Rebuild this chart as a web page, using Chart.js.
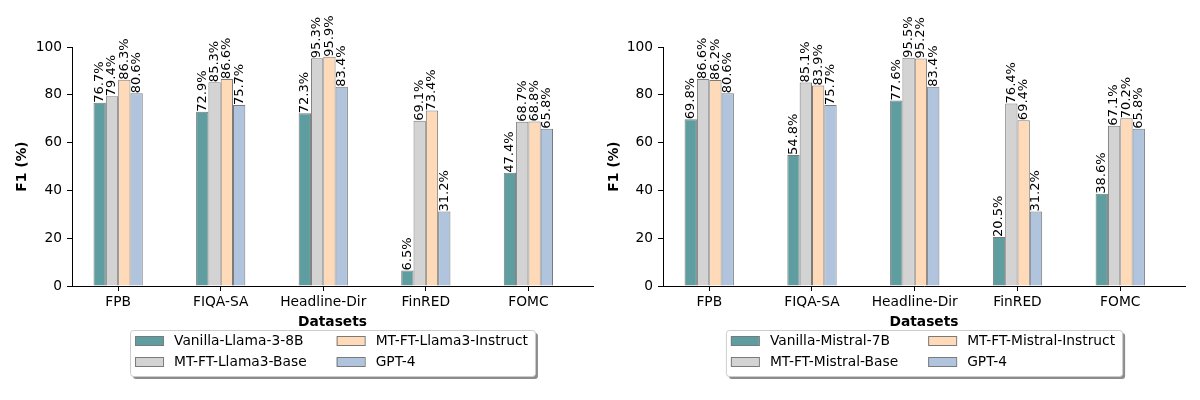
<!DOCTYPE html>
<html>
<head>
  <title>F1 by dataset</title>
  <script src="https://cdn.jsdelivr.net/npm/chart.js"></script>
  <style>
    body { margin: 0; background: #fff; }
    .panel { position: absolute; top: 0; width: 600px; height: 400px; }
  </style>
</head>
<body>
  <div class="panel" style="left:0"><canvas id="llamaChart" width="600" height="400"></canvas></div>
  <div class="panel" style="left:600px"><canvas id="mistralChart" width="600" height="400"></canvas></div>

  <script>
    // --- Data ---
    const datasetNames = ['FPB', 'FIQA-SA', 'Headline-Dir', 'FinRED', 'FOMC'];
    const yTicks = [0, 20, 40, 60, 80, 100];

    const llamaModels = ['Vanilla-Llama-3-8B', 'MT-FT-Llama3-Base', 'MT-FT-Llama3-Instruct', 'GPT-4'];
    const llamaVanilla = [76.7, 72.9, 72.3, 6.5, 47.4];
    const llamaBase = [79.4, 85.3, 95.3, 69.1, 68.7];
    const llamaInstruct = [86.3, 86.6, 95.9, 73.4, 68.8];
    const llamaGpt4 = [80.6, 75.7, 83.4, 31.2, 65.8];

    const mistralModels = ['Vanilla-Mistral-7B', 'MT-FT-Mistral-Base', 'MT-FT-Mistral-Instruct', 'GPT-4'];
    const mistralVanilla = [69.8, 54.8, 77.6, 20.5, 38.6];
    const mistralBase = [86.6, 85.1, 95.5, 76.4, 67.1];
    const mistralInstruct = [86.2, 83.9, 95.2, 69.4, 70.2];
    const mistralGpt4 = [80.6, 75.7, 83.4, 31.2, 65.8];

    const barColors = ['#5F9EA0', '#D3D3D3', '#FFDAB9', '#B0C4DE'];
    const edgeColor = '#7a7a7a';
    const FONT = '"DejaVu Sans", sans-serif';
    const SIZE = 13.8;

    // --- Value labels above bars (rotated 90 degrees) ---
    const barLabels = {
      id: 'barLabels',
      afterDatasetsDraw(chart) {
        const ctx = chart.ctx;
        ctx.save();
        ctx.font = '13px ' + FONT;
        ctx.fillStyle = '#000';
        ctx.textAlign = 'left';
        ctx.textBaseline = 'middle';
        chart.data.datasets.forEach((ds, d) => {
          chart.getDatasetMeta(d).data.forEach((bar, i) => {
            ctx.save();
            ctx.translate(bar.x, bar.y);
            ctx.rotate(-Math.PI / 2);
            ctx.fillText(ds.data[i].y.toFixed(1) + '%', 0, 0);
            ctx.restore();
          });
        });
        ctx.restore();
      }
    };

    // --- Framed legend under the axes, two columns, with shadow ---
    const boxLegend = {
      id: 'boxLegend',
      afterDraw(chart) {
        const ctx = chart.ctx;
        const ds = chart.data.datasets;
        const area = chart.chartArea;
        const cols = [[0, 1], [2, 3]];
        ctx.save();
        ctx.font = SIZE + 'px ' + FONT;
        const colW = cols.map(c => Math.max(...c.map(i => ctx.measureText(ds[i].label).width)));
        const patchW = 28, gap = 11, colGap = 30;
        const w = 5 + patchW + gap + colW[0] + colGap + patchW + gap + colW[1] + 7;
        const h = 46;
        const x0 = (area.left + area.right) / 2 - w / 2;
        const y0 = 330;

        ctx.fillStyle = 'rgba(0,0,0,0.45)';
        ctx.beginPath();
        ctx.roundRect(x0 + 3, y0 + 3, w, h, 3);
        ctx.fill();

        ctx.fillStyle = '#fff';
        ctx.strokeStyle = '#cccccc';
        ctx.lineWidth = 1;
        ctx.beginPath();
        ctx.roundRect(x0 + 0.5, y0 + 0.5, w, h, 3);
        ctx.fill();
        ctx.stroke();

        ctx.textBaseline = 'middle';
        ctx.textAlign = 'left';
        cols.forEach((col, c) => {
          const x = x0 + 5 + (c ? patchW + gap + colW[0] + colGap : 0);
          col.forEach((i, r) => {
            const y = y0 + 11 + r * 21;
            ctx.fillStyle = ds[i].backgroundColor;
            ctx.fillRect(x, y - 4.5, patchW, 9);
            ctx.strokeStyle = edgeColor;
            ctx.strokeRect(x + 0.5, y - 4.5, patchW, 9);
            ctx.fillStyle = '#000';
            ctx.fillText(ds[i].label, x + patchW + gap, y);
          });
        });
        ctx.restore();
      }
    };

    function makeChart(id, models, series, yWidth, rightPad, yTitlePad) {
      const ctx = document.getElementById(id).getContext('2d');
      return new Chart(ctx, {
        type: 'bar',
        data: {
          datasets: series.map((vals, k) => ({
            label: models[k],
            data: vals.map((v, i) => ({ x: i, y: v })),
            backgroundColor: barColors[k],
            borderColor: edgeColor,
            borderWidth: 1,
            categoryPercentage: 0.48,
            barPercentage: 1.0
          }))
        },
        options: {
          responsive: false,
          animation: false,
          layout: { padding: { top: 47, right: rightPad, bottom: 67, left: 0 } },
          plugins: { legend: { display: false }, tooltip: { enabled: false } },
          scales: {
            x: {
              type: 'linear',
              min: -0.45,
              max: 4.63,
              offset: false,
              afterBuildTicks: a => { a.ticks = datasetNames.map((_, i) => ({ value: i })); },
              afterFit: a => { a.height = 47; },
              ticks: {
                callback: v => datasetNames[v],
                autoSkip: false,
                maxRotation: 0,
                padding: 3,
                color: '#000',
                font: { family: FONT, size: SIZE }
              },
              grid: { display: true, offset: false, drawOnChartArea: false, drawTicks: true, tickLength: 5, color: '#000' },
              border: { display: true, color: '#000', width: 1 },
              title: {
                display: true, text: 'Datasets', color: '#000',
                font: { family: FONT, size: SIZE, weight: 'bold' },
                padding: { top: 0, bottom: 2 }
              }
            },
            y: {
              min: 0,
              max: 100,
              afterBuildTicks: a => { a.ticks = yTicks.map(v => ({ value: v })); },
              afterFit: a => { a.width = yWidth; },
              ticks: { padding: 5, color: '#000', font: { family: FONT, size: SIZE } },
              grid: { display: true, drawOnChartArea: false, drawTicks: true, tickLength: 5, color: '#000' },
              border: { display: true, color: '#000', width: 1 },
              title: {
                display: true, text: 'F1 (%)', color: '#000',
                font: { family: FONT, size: SIZE, weight: 'bold' },
                padding: { top: yTitlePad, bottom: 0 }
              }
            }
          }
        },
        plugins: [barLabels, boxLegend]
      });
    }

    makeChart('llamaChart', llamaModels, [llamaVanilla, llamaBase, llamaInstruct, llamaGpt4], 72, 7, 14);
    makeChart('mistralChart', mistralModels, [mistralVanilla, mistralBase, mistralInstruct, mistralGpt4], 63, 15, 6);
  </script>
</body>
</html>
